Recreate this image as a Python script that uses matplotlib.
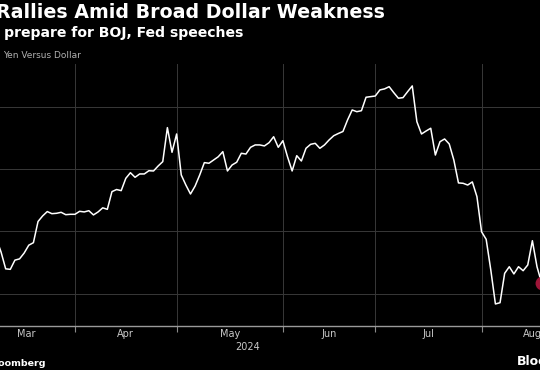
import matplotlib
matplotlib.use("Agg")
import matplotlib.pyplot as plt
import numpy as np
import pandas as pd

# -----------------------------
# Данные: USD/JPY по рабочим дням, начиная с 1 марта 2024
# -----------------------------
start_date = "2024-03-01"
usd_jpy = [
    150.10, 150.50, 150.00, 149.90, 149.40, 148.35, 147.00, 146.96, 147.70, 147.80,
    148.27, 148.90, 149.10, 150.80, 151.25, 151.60, 151.43, 151.46, 151.54, 151.35,
    151.38, 151.38, 151.62, 151.57, 151.67, 151.33, 151.57, 151.90, 151.78, 153.20,
    153.37, 153.28, 154.27, 154.72, 154.35, 154.62, 154.62, 154.88, 154.86, 155.26,
    155.61, 158.34, 156.36, 157.83, 154.54, 153.73, 153.01, 153.65, 154.54, 155.53,
    155.48, 155.74, 156.00, 156.41, 154.86, 155.34, 155.56, 156.28, 156.22, 156.76,
    156.95, 156.95, 156.87, 157.13, 157.61, 156.76, 157.29, 156.00, 154.86, 156.09,
    155.66, 156.68, 157.00, 157.08, 156.68, 156.95, 157.35, 157.69, 157.87, 158.03,
    158.96, 159.76, 159.62, 159.70, 160.78, 160.83, 160.88, 161.37, 161.45, 161.63,
    161.15, 160.70, 160.75, 161.23, 161.69, 158.82, 157.83, 158.07, 158.29, 156.14,
    157.21, 157.43, 157.03, 155.74, 153.90, 153.87, 153.73, 153.98, 152.80, 149.98,
    149.37, 146.91, 144.18, 144.28, 146.64, 147.17, 146.59, 147.17, 146.85, 147.31,
    149.26, 147.17, 145.86,
]
grid_levels = [145, 150, 155, 160]
month_names = ["Mar", "Apr", "May", "Jun", "Jul", "Aug"]
year_label = "2024"

title = "Rallies Amid Broad Dollar Weakness"
subtitle = "Traders prepare for BOJ, Fed speeches"
series_label = "Yen Versus Dollar"
source = "Source: Bloomberg"

W, H = 540, 370


def main():
    dates = pd.bdate_range(start_date, periods=len(usd_jpy))
    x = np.arange(len(dates))

    # границы месяцев (первый рабочий день месяца)
    month_start = [i for i in range(1, len(dates)) if dates[i].month != dates[i - 1].month]
    bounds = [0] + month_start + [month_start[-1] + 22]
    centers = [(a + b) / 2 for a, b in zip(bounds[:-1], bounds[1:])]

    plt.rcParams['font.family'] = ['DejaVu Sans']
    fig = plt.figure(figsize=(W / 100, H / 100), dpi=100, facecolor='black')
    ax = fig.add_axes([0, 44 / H, 1, 262 / H])
    ax.set_facecolor('black')

    ax.plot(x, usd_jpy, color='white', linewidth=1.1, zorder=3)
    ax.plot(x[-1], usd_jpy[-1], 'o', color='#9e1538', markersize=9, zorder=4, clip_on=False)

    ax.set_xlim(4.77, 121.65)
    ax.set_ylim(142.41, 163.45)

    ax.set_yticks(grid_levels)
    ax.set_xticks(month_start)
    ax.grid(color='#383838', linewidth=0.7)
    ax.tick_params(axis='y', length=0, labelleft=False)
    ax.tick_params(axis='x', length=4, color='#8a8a8a', width=0.8, labelbottom=False)

    for side in ['left', 'right', 'top']:
        ax.spines[side].set_visible(False)
    ax.spines['bottom'].set_color('#9a9a9a')
    ax.spines['bottom'].set_linewidth(1.0)

    trans = ax.get_xaxis_transform()
    for c, name in zip(centers, month_names):
        ax.text(c, -0.031, name, transform=trans, ha='center', va='center',
                color='#c8c8c8', fontsize=7, clip_on=False)
    fig.text(248 / W, 1 - 347 / H, year_label, ha='center', va='center',
             color='#c8c8c8', fontsize=7)

    fig.text(-4 / W, 1 - 13 / H, title, ha='left', va='center',
             color='white', fontsize=13.7, fontweight='bold')
    fig.text(243 / W, 1 - 33 / H, subtitle, ha='right', va='center',
             color='white', fontsize=10.1, fontweight='bold')
    fig.text(3 / W, 1 - 55 / H, series_label, ha='left', va='center',
             color='#b0b0b0', fontsize=6.5)

    fig.text(46 / W, 1 - 363 / H, source, ha='right', va='center',
             color='white', fontsize=6.8, fontweight='bold')
    fig.text(517 / W, 1 - 361 / H, "Bloomberg", ha='left', va='center',
             color='white', fontsize=9, fontweight='bold')

    fig.savefig("out.png", dpi=100, facecolor='black')


if __name__ == "__main__":
    main()
